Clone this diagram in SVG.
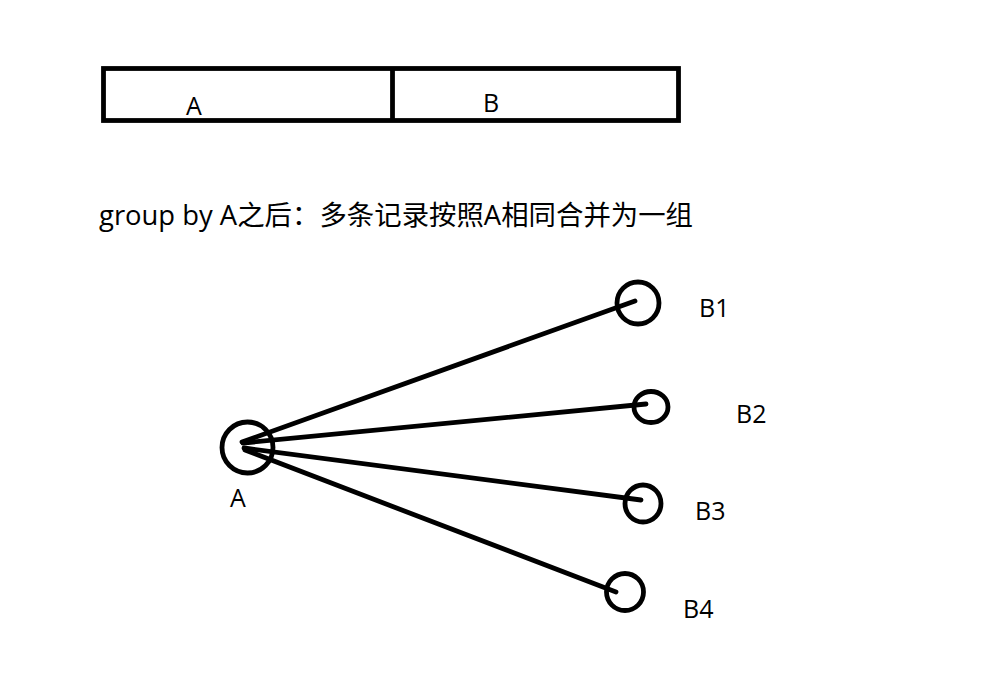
<svg xmlns="http://www.w3.org/2000/svg" width="987" height="681" viewBox="0 0 987 681">
<style>
.s{fill:none;stroke:#000;stroke-width:4.8}
.t{font-family:"Open Sans","Noto Sans CJK SC",sans-serif;font-size:25px;fill:#000}
.e{stroke:#000;stroke-width:4.8;stroke-linecap:round;fill:none}
</style>
<rect width="987" height="681" fill="#fff"/>
<g id="table">
<rect class="s" x="103.5" y="68.5" width="575" height="52" stroke-width="5"/>
<line class="s" x1="392.5" y1="68.5" x2="392.5" y2="120.5" stroke-width="5"/>
<text class="t" x="186" y="115">A</text>
<text class="t" x="483" y="112">B</text>
</g>
<text class="t" x="99" y="225" id="heading" style="font-size:27px" textLength="594" lengthAdjust="spacingAndGlyphs">group by A之后：多条记录按照A相同合并为一组</text>
<g id="connectors">
<line class="e" x1="242" y1="442" x2="635" y2="301"/>
<line class="e" x1="243" y1="443" x2="646" y2="404"/>
<line class="e" x1="244" y1="448" x2="641" y2="500"/>
<line class="e" x1="245" y1="450" x2="616" y2="592"/>
</g>
<g id="nodeA"><circle class="s" cx="247.5" cy="447.5" r="25.5"/><text class="t" x="230" y="507">A</text></g>
<g id="nodeB1"><circle class="s" cx="638" cy="303" r="21"/><text class="t" x="699" y="317">B1</text></g>
<g id="nodeB2"><ellipse class="s" cx="651" cy="407" rx="17" ry="15.5"/><text class="t" x="736" y="423">B2</text></g>
<g id="nodeB3"><ellipse class="s" cx="643" cy="503.5" rx="18" ry="18.5"/><text class="t" x="695" y="520">B3</text></g>
<g id="nodeB4"><circle class="s" cx="625" cy="592" r="18.5"/><text class="t" x="683" y="618">B4</text></g>
</svg>
